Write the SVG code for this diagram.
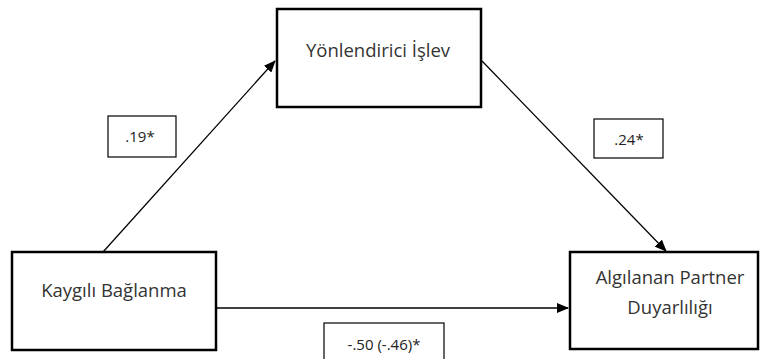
<svg xmlns="http://www.w3.org/2000/svg" width="763" height="359" viewBox="0 0 763 359">
<style>
.node{fill:#fff;stroke:#000;stroke-width:2.5}
.lbl{fill:#fff;stroke:#000;stroke-width:1.2}
.t{font-family:"Open Sans","Noto Sans",sans-serif;font-size:18.5px;fill:#333;text-anchor:middle}
.s{font-family:"Open Sans","Noto Sans",sans-serif;font-size:15px;fill:#222;text-anchor:middle}
.c{stroke:#000;stroke-width:1.3;fill:none}
</style>
<defs>
<marker id="ah" markerWidth="12" markerHeight="10" refX="11" refY="5" orient="auto" markerUnits="userSpaceOnUse">
<path d="M0,0 L12,5 L0,10 z" fill="#000"/>
</marker>
</defs>
<g id="connectors">
<line class="c" x1="103" y1="252" x2="275" y2="61" marker-end="url(#ah)"/>
<line class="c" x1="482" y1="61" x2="666" y2="251" marker-end="url(#ah)"/>
<line class="c" x1="217" y1="308" x2="568" y2="308" marker-end="url(#ah)"/>
</g>
<g id="yonlendirici">
<rect class="node" x="277" y="9" width="204" height="98"/>
<text class="t" x="378" y="57">Yönlendirici İşlev</text>
</g>
<g id="kaygili">
<rect class="node" x="12" y="252" width="204" height="98"/>
<text class="t" x="114" y="297">Kaygılı Bağlanma</text>
</g>
<g id="algilanan">
<rect class="node" x="570" y="252" width="188" height="97"/>
<text class="t" x="670" y="284">Algılanan Partner</text>
<text class="t" x="670" y="314">Duyarlılığı</text>
</g>
<g id="l1">
<rect class="lbl" x="108" y="116" width="68" height="41"/>
<text class="s" x="140" y="142">.19*</text>
</g>
<g id="l2">
<rect class="lbl" x="594" y="119" width="69" height="39"/>
<text class="s" x="629" y="145">.24*</text>
</g>
<g id="l3">
<rect class="lbl" x="324" y="323" width="120" height="40"/>
<text class="s" x="384" y="350">-.50 (-.46)*</text>
</g>
</svg>
